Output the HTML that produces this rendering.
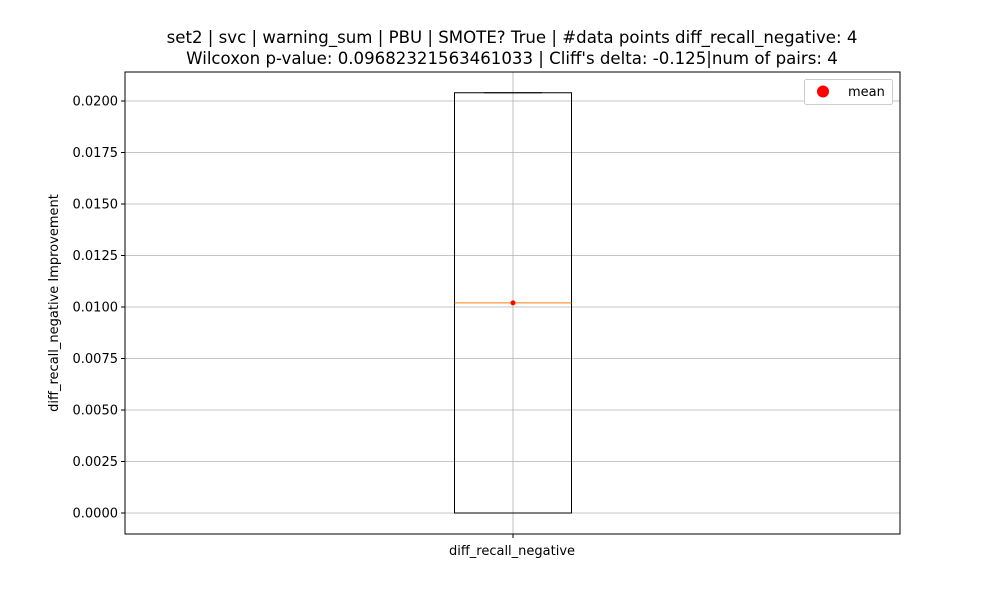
<!DOCTYPE html>
<html><head><meta charset="utf-8"><style>
body{margin:0;background:#fff;font-family:"Liberation Sans","DejaVu Sans",sans-serif}
svg text{font-family:"DejaVu Sans","Liberation Sans",sans-serif;fill:#000}
</style></head><body>
<svg id="chart" width="1000" height="600" xmlns="http://www.w3.org/2000/svg">
<rect width="1000" height="600" fill="#fff"/>
<text x="512" y="43" font-size="16.6" text-anchor="middle">set2 | svc | warning_sum | PBU | SMOTE? True | #data points diff_recall_negative: 4</text>
<text x="512" y="64" font-size="16.6" text-anchor="middle">Wilcoxon p-value: 0.09682321563461033 | Cliff's delta: -0.125|num of pairs: 4</text>
<g id="grid"></g>
<g id="marks"></g>
<rect x="125" y="72" width="775" height="462" fill="none" stroke="#000" stroke-width="1"/>
<g id="ticks"></g>
<text x="512" y="555" font-size="13" text-anchor="middle">diff_recall_negative</text>
<text transform="translate(58,303) rotate(-90)" font-size="13" text-anchor="middle">diff_recall_negative Improvement</text>
<g>
<rect x="804.5" y="79.5" width="88" height="25" rx="2" fill="#fff" stroke="#ccc"/>
<circle cx="823" cy="91.5" r="6" fill="red"/>
<text x="848" y="96" font-size="13">mean</text>
</g>
</svg>
<script>
const yTicks=[0,0.0025,0.005,0.0075,0.01,0.0125,0.015,0.0175,0.02];
const yTickLabels=["0.0000","0.0025","0.0050","0.0075","0.0100","0.0125","0.0150","0.0175","0.0200"];
const boxStats=[0,0,0.0102,0.0204,0.0204]; // whisker low, q1, median, q3, whisker high
const meanValue=[0.0102];
const NS="http://www.w3.org/2000/svg";
const y=v=>513-v*20600;
const cx=513;
function mk(tag,attrs,parent){const e=document.createElementNS(NS,tag);for(const k in attrs)e.setAttribute(k,attrs[k]);document.getElementById(parent).appendChild(e);return e;}
yTicks.forEach((t,i)=>{
  const g=mk('line',{x1:125,x2:900,y1:y(t),y2:y(t),stroke:'#b0b0b0','stroke-width':0.8},'grid');
  
  
  const tk=mk('line',{x1:121,x2:125,y1:y(t),y2:y(t),stroke:'#000'},'ticks');
  
  
  const tx=mk('text',{x:118,y:y(t)+4.5,'font-size':13,'text-anchor':'end'},'ticks');
  tx.textContent=yTickLabels[i];
  
  
});
const vg=mk('line',{x1:cx,x2:cx,y1:72,y2:534,stroke:'#b0b0b0','stroke-width':0.8},'grid');


const xt=mk('line',{x1:cx,x2:cx,y1:534,y2:538,stroke:'#000'},'ticks');


const [wl,q1,med,q3,wh]=boxStats;
const w1=mk('line',{x1:cx,x2:cx,y1:y(q1),y2:y(wl),stroke:'#000'},'marks');


const w2=mk('line',{x1:cx,x2:cx,y1:y(q3),y2:y(wh),stroke:'#000'},'marks');


const c1=mk('line',{x1:484,x2:542,y1:y(wl),y2:y(wl),stroke:'#000'},'marks');


const c2=mk('line',{x1:484,x2:542,y1:y(wh),y2:y(wh),stroke:'#000'},'marks');


const bx=mk('rect',{x:454.5,y:y(q3),width:117,height:y(q1)-y(q3),fill:'none',stroke:'#000'},'marks');


const md=mk('line',{x1:454.5,x2:571.5,y1:y(med),y2:y(med),stroke:'#ff7f0e'},'marks');


const mn=mk('circle',{cx:cx,cy:y(meanValue[0]),r:2.5,fill:'red',stroke:'#ff7f0e','stroke-width':0.5},'marks');


</script>
</body></html>
